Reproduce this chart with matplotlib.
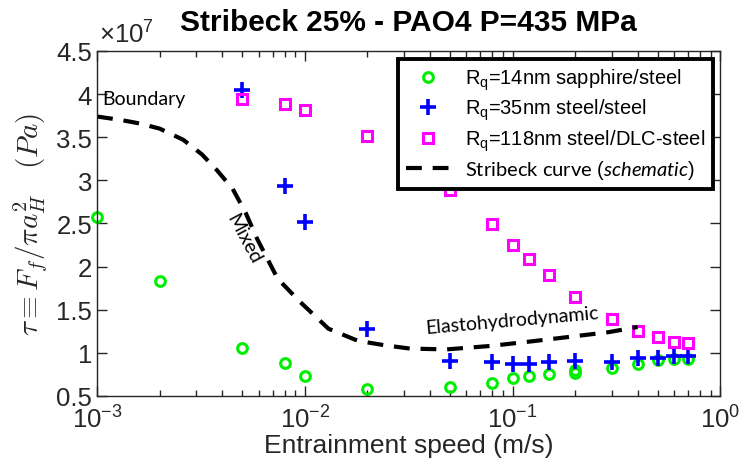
import matplotlib
matplotlib.use("Agg")
import matplotlib.pyplot as plt
import numpy as np
from matplotlib.ticker import FuncFormatter, LogLocator

plt.rcParams['font.family'] = ['Liberation Sans', 'DejaVu Sans']
plt.rcParams['mathtext.fontset'] = 'custom'
plt.rcParams['mathtext.rm'] = 'Liberation Sans'
plt.rcParams['mathtext.it'] = 'Lato:italic'

# vitesses (m/s) et contrainte (x1e7 Pa)
u_saph = [0.001, 0.002, 0.005, 0.008, 0.01, 0.02, 0.05, 0.08, 0.1, 0.12, 0.15, 0.2, 0.2, 0.3, 0.4, 0.5, 0.6, 0.7]
tau_saph = [2.57, 1.83, 1.06, 0.88, 0.73, 0.58, 0.61, 0.65, 0.71, 0.73, 0.75, 0.77, 0.80, 0.82, 0.87, 0.92, 0.93, 0.93]

u_steel = [0.005, 0.008, 0.01, 0.02, 0.05, 0.08, 0.1, 0.12, 0.15, 0.2, 0.3, 0.4, 0.5, 0.6, 0.7]
tau_steel = [4.05, 2.94, 2.52, 1.28, 0.90, 0.89, 0.87, 0.87, 0.89, 0.90, 0.89, 0.94, 0.94, 0.96, 0.96]

u_dlc = [0.005, 0.008, 0.01, 0.02, 0.05, 0.08, 0.1, 0.12, 0.15, 0.2, 0.3, 0.4, 0.5, 0.6, 0.7]
tau_dlc = [3.94, 3.89, 3.82, 3.52, 2.89, 2.49, 2.25, 2.09, 1.90, 1.65, 1.39, 1.25, 1.18, 1.13, 1.11]

# courbe de Stribeck (schematique)
u_curve = [0.001, 0.0013, 0.0016, 0.002, 0.0026, 0.0032, 0.0038, 0.0045, 0.0052, 0.0059, 0.0074,
           0.0095, 0.013, 0.018, 0.024, 0.032, 0.048, 0.078, 0.12, 0.18, 0.29, 0.4]
tau_curve = [3.74, 3.70, 3.66, 3.60, 3.47, 3.30, 3.11, 2.90, 2.62, 2.32, 1.86,
             1.59, 1.28, 1.14, 1.09, 1.05, 1.04, 1.08, 1.13, 1.18, 1.24, 1.30]

labels = [r"R$_{\mathrm{q}}$=14nm sapphire/steel",
          r"R$_{\mathrm{q}}$=35nm steel/steel",
          r"R$_{\mathrm{q}}$=118nm steel/DLC-steel",
          r"Stribeck curve $\mathit{(schematic)}$"]

scale = 1e7

fig = plt.figure(figsize=(7.41, 4.64), dpi=100)
ax = fig.add_axes([0.131, 0.1444, 0.841, 0.7436])

ax.plot(u_saph, np.array(tau_saph) * scale, 'o', ls='none', ms=7, mew=2.2,
        mfc='none', mec='#00ee00', label=labels[0], clip_on=False)
ax.plot(u_steel, np.array(tau_steel) * scale, '+', ls='none', ms=11, mew=2.6,
        color='#0000ff', label=labels[1])
ax.plot(u_dlc, np.array(tau_dlc) * scale, 's', ls='none', ms=6.5, mew=2.2,
        mfc='none', mec='#ff00ff', label=labels[2])
ax.plot(u_curve, np.array(tau_curve) * scale, '--', color='black', lw=3,
        dashes=(3.8, 2.6), label=labels[3])

ax.set_xscale('log')
ax.set_xlim(1e-3, 1)
ax.set_ylim(0.5e7, 4.5e7)
ax.set_yticks(np.arange(0.5, 4.51, 0.5) * scale)
ax.yaxis.set_major_formatter(FuncFormatter(lambda v, p: f"{v / scale:g}"))
ax.xaxis.set_minor_locator(LogLocator(base=10, subs=np.arange(2, 10), numticks=20))

ax.tick_params(which='both', direction='in', top=True, right=True,
               labelsize=18.5, colors='#262626', width=1)
ax.tick_params(which='major', length=7)
ax.tick_params(which='minor', length=4)
ax.tick_params(axis='x', pad=7)
for s in ax.spines.values():
    s.set_color('#262626')
    s.set_linewidth(1)

ax.text(0.003, 1.01, r"$\times\mathregular{10^{7}}$", transform=ax.transAxes,
        fontsize=18.5, color='#262626', ha='left', va='bottom')

ax.set_title("Stribeck 25% - PAO4 P=435 MPa", fontsize=21.5, fontweight='bold', pad=15)
ax.set_xlabel("Entrainment speed (m/s)", fontsize=19, color='#262626', labelpad=0)
ax.set_ylabel(r"$\tau \equiv F_f/\pi a_H^2 \quad (Pa)$", fontsize=21,
              color='#262626', math_fontfamily='cm', labelpad=5)

# annotations des regimes
ax.text(1.06e-3, 3.95e7, "Boundary", fontfamily='Lato', fontsize=14,
        ha='left', va='center')
ax.text(0.0051, 2.33e7, "Mixed", fontfamily='Lato', fontsize=14,
        ha='center', va='center', rotation=-62)
ax.text(0.1, 1.38e7, "Elastohydrodynamic", fontfamily='Lato', fontsize=14,
        ha='center', va='center', rotation=5)

leg = ax.legend(loc='upper right', bbox_to_anchor=(0.989, 0.977), borderaxespad=0,
                fontsize=14.5, fancybox=False, framealpha=1, edgecolor='black',
                handlelength=2.2, handletextpad=0.75, labelspacing=0.25,
                borderpad=0.4)
leg.get_frame().set_linewidth(2.8)
leg.get_texts()[3].set_fontfamily('Lato')

fig.savefig("out.png", dpi=100)
